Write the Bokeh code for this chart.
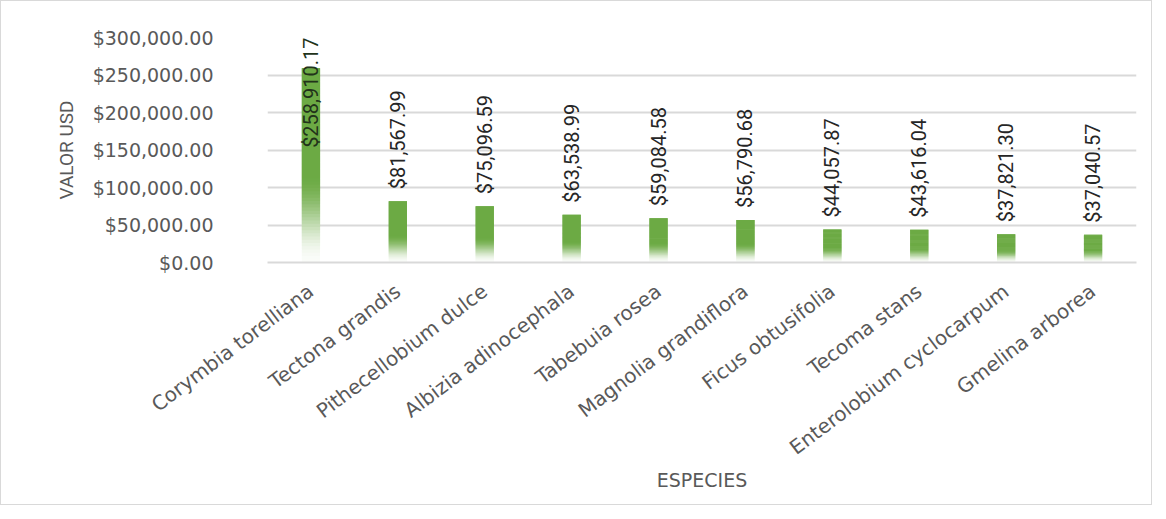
import math
from bokeh.plotting import figure
from bokeh.models import ColumnDataSource, FactorRange, Range1d, NumeralTickFormatter, LabelSet
from bokeh.core.properties import value
from bokeh.embed import file_html
from bokeh.resources import INLINE

species = ["Corymbia torelliana", "Tectona grandis", "Pithecellobium dulce",
           "Albizia adinocephala", "Tabebuia rosea", "Magnolia grandiflora",
           "Ficus obtusifolia", "Tecoma stans", "Enterolobium cyclocarpum",
           "Gmelina arborea"]
values = [258910.17, 81567.99, 75096.59, 63538.99, 59084.58, 56790.68,
          44057.87, 43616.04, 37821.30, 37040.57]
y_ticks = [0, 50000, 100000, 150000, 200000, 250000, 300000]

YMAX = 300000
GREEN = (108, 170, 68)
LABEL_FONT = "Roboto"

def blend(a):
    r = [round(255 * (1 - a) + c * a) for c in GREEN]
    return "#%02x%02x%02x" % tuple(r)

# gradient bands (each bar split into bands fading to white at the bottom);
# each band overlaps the next one so no seams show
N = 60
gx, gb, gt, gc = [], [], [], []
for i in range(N):
    for s, v in zip(species, values):
        f0, f1 = i / N, min(1.0, (i + 2) / N)
        fm = (i + 0.5) / N
        t = min(1.0, max(0.0, fm / 0.45))
        a = 0.03 + 0.97 * (t * t * (3 - 2 * t))
        gx.append(s); gb.append(v * f0); gt.append(v * f1); gc.append(blend(a))
grad = ColumnDataSource(dict(x=gx, bottom=gb, top=gt, color=gc))

p = figure(x_range=FactorRange(*species, range_padding=0), y_range=Range1d(0, YMAX),
           width=1152, height=505, output_backend="svg", toolbar_location=None,
           min_border_left=266, min_border_right=17, min_border_top=36, min_border_bottom=244)
p.styles = {"border": "1px solid #d9d9d9", "box-sizing": "border-box"}
p.outline_line_color = None
p.background_fill_color = "white"
p.border_fill_color = "white"

p.vbar(x="x", bottom="bottom", top="top", width=0.21, source=grad,
       fill_color="color", line_color=None)

# labels
lab_x, lab_y, lab_t = [], [], []
over_x, over_y, over_t = [], [], []
for s, v in zip(species, values):
    txt = "${:,.2f}".format(v)
    if v > YMAX / 2:
        over_x.append(s); over_y.append(YMAX); over_t.append(txt)
    else:
        lab_x.append(s); lab_y.append(v); lab_t.append(txt)

ls1 = LabelSet(x="x", y="y", text="t", source=ColumnDataSource(dict(x=lab_x, y=lab_y, t=lab_t)),
               angle=math.pi / 2, text_align="left", text_baseline="middle", y_offset=12,
               text_font=value(LABEL_FONT), text_font_size="20px", text_color="#262626")
ls2 = LabelSet(x="x", y="y", text="t", source=ColumnDataSource(dict(x=over_x, y=over_y, t=over_t)),
               angle=math.pi / 2, text_align="right", text_baseline="middle", y_offset=0,
               text_font=value(LABEL_FONT), text_font_size="20px", text_color="#22331a")
p.add_layout(ls1)
p.add_layout(ls2)

# y axis
p.yaxis.ticker = y_ticks
p.yaxis.formatter = NumeralTickFormatter(format="$0,0.00")
p.yaxis.axis_line_color = None
p.yaxis.major_tick_line_color = None
p.yaxis.minor_tick_line_color = None
p.yaxis.major_label_standoff = 48
p.yaxis.major_label_text_font = "DejaVu Sans"
p.yaxis.major_label_text_font_size = "19px"
p.yaxis.major_label_text_color = "#595959"
p.yaxis.axis_label = "VALOR USD"
p.yaxis.axis_label_text_font = "Roboto"
p.yaxis.axis_label_text_font_size = "19px"
p.yaxis.axis_label_text_font_style = "normal"
p.yaxis.axis_label_text_color = "#595959"
p.yaxis.axis_label_standoff = 12

# x axis
p.xaxis.axis_line_color = "#d9d9d9"
p.xaxis.axis_line_width = 2
p.xaxis.major_tick_line_color = None
p.xaxis.minor_tick_line_color = None
p.xaxis.major_label_orientation = 0.646
p.xaxis.major_label_standoff = 20
p.xaxis.major_label_text_font = "DejaVu Sans"
p.xaxis.major_label_text_font_size = "20px"
p.xaxis.major_label_text_color = "#595959"
p.xaxis.axis_label = "ESPECIES"
p.xaxis.axis_label_text_font = "DejaVu Sans"
p.xaxis.axis_label_text_font_size = "19px"
p.xaxis.axis_label_text_font_style = "normal"
p.xaxis.axis_label_text_color = "#595959"
p.xaxis.axis_label_standoff = -3

p.xgrid.grid_line_color = None
p.ygrid.grid_line_color = "#d9d9d9"
p.ygrid.grid_line_width = 2

open("out.html", "w").write(file_html(p, INLINE))
